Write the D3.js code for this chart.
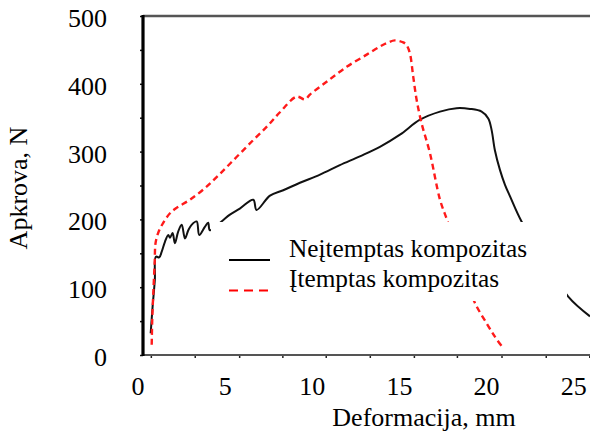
<!DOCTYPE html>
<html>
<head>
<meta charset="utf-8">
<script src="https://cdn.jsdelivr.net/npm/d3@7"></script>
<style>
  html, body { margin: 0; padding: 0; background: #fff; }
  svg { display: block; }
  text { font-family: "Liberation Serif", "Times New Roman", serif; fill: #000; }
</style>
</head>
<body>
<svg id="chart" width="590" height="432"></svg>
<script>
// Load–deformation curves of the two composite samples
const xTickLabels = [0, 5, 10, 15, 20, 25];
const xTickMarks = [0.73, 3.25, 5.8, 8.28, 10.77, 13.3, 15.83, 18.3, 20.86, 23.4, 25.9];
const yTickLabels = [0, 100, 200, 300, 400, 500];
const yTickMarks = [0, 50, 100, 150, 200, 250, 300, 350, 400, 450, 500];

const seriesNames = ["Neįtemptas kompozitas", "Įtemptas kompozitas"];

// Neįtemptas kompozitas (solid black)
const plainDef = [0.72, 0.83, 0.96, 1.02, 1.21, 1.35, 1.54, 1.73, 1.83, 1.98, 2.11, 2.30, 2.50, 2.69, 2.88, 3.07, 3.36, 3.51, 3.83, 4.02, 4.12, 4.79, 5.27, 5.84, 6.61, 6.80, 7.57, 8.33, 9.29, 10.44, 11.58, 12.73, 13.88, 15.03, 16.18, 17.33, 18.28, 19.05, 19.72, 20.10, 20.29, 20.48, 20.77, 21.06, 21.35, 22.01, 23.35, 24.69, 25.94];
const plainLoad = [32, 71, 111, 145, 144, 152, 167, 177, 173, 180, 165, 182, 192, 172, 184, 192, 197, 177, 189, 195, 184, 197, 207, 216, 229, 214, 235, 243, 254, 266, 280, 293, 307, 325, 347, 359, 364, 363, 359, 349, 332, 302, 273, 251, 234, 197, 142, 86, 57];

// Įtemptas kompozitas (dashed red)
const tensDef = [0.78, 0.81, 0.87, 0.95, 1.00, 1.15, 1.44, 1.83, 2.21, 2.97, 3.83, 4.69, 5.65, 6.61, 7.47, 8.14, 9.10, 9.58, 9.86, 10.82, 11.97, 13.12, 13.88, 14.27, 14.74, 15.22, 15.41, 15.60, 15.79, 15.99, 16.27, 16.75, 17.33, 17.78, 18.82, 19.33, 20.00, 20.48, 20.96];
const tensLoad = [15, 52, 91, 136, 165, 180, 195, 209, 217, 229, 246, 267, 292, 317, 339, 358, 381, 377, 384, 403, 425, 443, 455, 460, 464, 461, 457, 445, 411, 376, 342, 298, 229, 196, 114, 77, 47, 27, 10];

const svg = d3.select("#chart");
const plotL = 143, plotR = 590, plotT = 16, plotB = 355;

const x = d3.scaleLinear().domain([0.28, 25.94]).range([plotL, plotR]);
const y = d3.scaleLinear().domain([0, 500]).range([plotB, plotT]);

svg.append("defs").append("clipPath").attr("id", "plot")
  .append("rect").attr("x", plotL).attr("y", plotT - 2)
  .attr("width", plotR - plotL).attr("height", plotB - plotT + 2);

const line = d3.line()
  .x(d => x(d[0])).y(d => y(d[1]))
  .curve(d3.curveCatmullRom.alpha(0.5));

const plain = plainDef.map((v, i) => [v, plainLoad[i]]);
const tens = tensDef.map((v, i) => [v, tensLoad[i]]);

const g = svg.append("g").attr("clip-path", "url(#plot)");
g.append("path").datum(plain).attr("d", line)
  .attr("fill", "none").attr("stroke", "#111").attr("stroke-width", 2)
  .attr("stroke-linejoin", "round");
g.append("path").datum(tens).attr("d", line)
  .attr("fill", "none").attr("stroke", "#ff1a1a").attr("stroke-width", 2.4)
  .attr("stroke-dasharray", "6,4");

// frame: top border
svg.append("line").attr("x1", plotL).attr("x2", plotR).attr("y1", plotT).attr("y2", plotT)
  .attr("stroke", "#555").attr("stroke-width", 2.5);

// bottom axis with tick marks
const xAxisMarks = d3.axisBottom(x).tickValues(xTickMarks).tickSize(3).tickFormat("");
const gx = svg.append("g").attr("transform", `translate(0,${plotB})`).call(xAxisMarks);
gx.select(".domain").remove();
gx.selectAll(".tick line").attr("stroke", "#222").attr("stroke-width", 1.5);
svg.append("line").attr("x1", plotL).attr("x2", plotR).attr("y1", plotB).attr("y2", plotB)
  .attr("stroke", "#555").attr("stroke-width", 2.2);

svg.append("g").selectAll("text").data(xTickLabels).join("text")
  .attr("x", d => x(d)).attr("y", 395)
  .attr("text-anchor", "middle").style("font-size", "26px")
  .text(d => d);

// left axis with tick marks
const yAxisMarks = d3.axisLeft(y).tickValues(yTickMarks).tickSize(3).tickFormat("");
const gy = svg.append("g").attr("transform", `translate(${plotL},0)`).call(yAxisMarks);
gy.select(".domain").remove();
gy.selectAll(".tick line").attr("stroke", "#111").attr("stroke-width", 1.5);
svg.append("line").attr("x1", plotL).attr("x2", plotL).attr("y1", plotT - 1).attr("y2", plotB + 1)
  .attr("stroke", "#000").attr("stroke-width", 3.2);

svg.append("g").selectAll("text").data(yTickLabels).join("text")
  .attr("x", 107).attr("y", d => y(d) + 11)
  .attr("text-anchor", "end").style("font-size", "26px")
  .text(d => d);

// axis titles
svg.append("text").attr("x", 424).attr("y", 426)
  .attr("text-anchor", "middle").style("font-size", "26px")
  .text("Deformacija, mm");
svg.append("text").attr("transform", "translate(27,188) rotate(-90)")
  .attr("text-anchor", "middle").style("font-size", "26px")
  .text("Apkrova, N");

// legend on an opaque box over the curves
const lg = svg.append("g");
lg.append("rect").attr("x", 211).attr("y", 222).attr("width", 356).attr("height", 79)
  .attr("fill", "#fff");
lg.append("line").attr("x1", 229).attr("x2", 270).attr("y1", 260).attr("y2", 260)
  .attr("stroke", "#000").attr("stroke-width", 2.2);
lg.append("line").attr("x1", 229).attr("x2", 270).attr("y1", 290.5).attr("y2", 290.5)
  .attr("stroke", "#ff0000").attr("stroke-width", 2.2).attr("stroke-dasharray", "9,6");
lg.append("text").attr("x", 289).attr("y", 257).style("font-size", "25.3px").text(seriesNames[0]);
lg.append("text").attr("x", 289).attr("y", 287).style("font-size", "25.3px").text(seriesNames[1]);
</script>
</body>
</html>
